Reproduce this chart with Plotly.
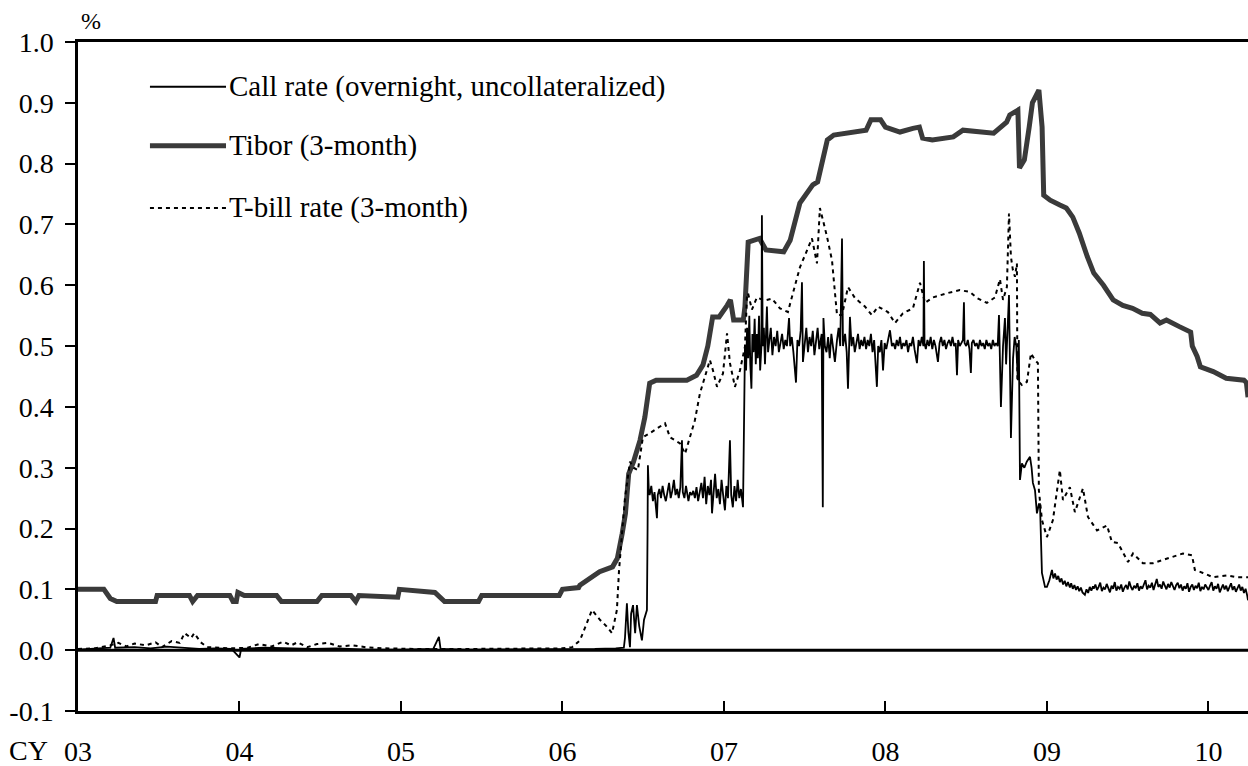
import plotly.graph_objects as go

# ---------------- data (decimal years, %) ----------------
tibor_x = [2003.00, 2003.16, 2003.20, 2003.24, 2003.48, 2003.49, 2003.69, 2003.71, 2003.74, 2003.94,
           2003.96, 2003.98, 2003.99, 2004.03, 2004.23, 2004.26, 2004.48, 2004.51, 2004.69, 2004.72,
           2004.74, 2004.98, 2004.99, 2005.17, 2005.21, 2005.27, 2005.48, 2005.50, 2005.98, 2006.00,
           2006.10, 2006.108, 2006.23, 2006.31, 2006.34, 2006.37, 2006.39, 2006.41, 2006.44, 2006.48,
           2006.51, 2006.54, 2006.58, 2006.77, 2006.83, 2006.87, 2006.90, 2006.93, 2006.97, 2007.02,
           2007.04, 2007.06, 2007.12, 2007.13, 2007.145, 2007.15, 2007.22, 2007.26, 2007.37, 2007.41,
           2007.47, 2007.55, 2007.58, 2007.61, 2007.64, 2007.68, 2007.76, 2007.88, 2007.91, 2007.97,
           2008.00, 2008.09, 2008.17, 2008.21, 2008.23, 2008.29, 2008.42, 2008.48, 2008.67, 2008.71,
           2008.75, 2008.77, 2008.82, 2008.83, 2008.86, 2008.89, 2008.91, 2008.95, 2008.97, 2008.98,
           2009.02, 2009.08, 2009.12, 2009.16, 2009.20, 2009.25, 2009.29, 2009.35, 2009.41, 2009.47,
           2009.53, 2009.59, 2009.64, 2009.70, 2009.74, 2009.82, 2009.89, 2009.90, 2009.93, 2009.95,
           2010.03, 2010.11, 2010.22, 2010.235, 2010.245]
tibor_y = [0.100, 0.100, 0.085, 0.080, 0.080, 0.090, 0.090, 0.080, 0.090, 0.090,
           0.080, 0.080, 0.095, 0.090, 0.090, 0.080, 0.080, 0.090, 0.090, 0.080,
           0.090, 0.087, 0.100, 0.097, 0.095, 0.080, 0.080, 0.090, 0.090, 0.100,
           0.103, 0.107, 0.129, 0.137, 0.151, 0.192, 0.225, 0.290, 0.310, 0.345,
           0.383, 0.439, 0.444, 0.444, 0.452, 0.469, 0.500, 0.548, 0.548, 0.567,
           0.576, 0.543, 0.543, 0.565, 0.660, 0.671, 0.677, 0.658, 0.655, 0.674,
           0.735, 0.765, 0.770, 0.806, 0.839, 0.847, 0.850, 0.855, 0.872, 0.872,
           0.860, 0.852, 0.858, 0.860, 0.842, 0.839, 0.844, 0.855, 0.850, 0.859,
           0.868, 0.880, 0.888, 0.793, 0.806, 0.860, 0.900, 0.921, 0.860, 0.748,
           0.740, 0.732, 0.727, 0.712, 0.686, 0.647, 0.620, 0.600, 0.576, 0.567,
           0.562, 0.554, 0.552, 0.538, 0.543, 0.532, 0.523, 0.500, 0.483, 0.466,
           0.458, 0.447, 0.444, 0.440, 0.416]

call_x = [2003.00, 2003.10, 2003.20, 2003.22, 2003.23, 2003.35, 2003.45, 2003.55, 2003.65, 2003.75,
          2003.85, 2003.95, 2004.00, 2004.01, 2004.15, 2004.30, 2004.45, 2004.60, 2004.80, 2005.00,
          2005.20, 2005.235, 2005.245, 2005.40, 2005.60, 2005.80, 2006.00, 2006.20, 2006.33, 2006.38,
          2006.387, 2006.399, 2006.408, 2006.418, 2006.425, 2006.437, 2006.45, 2006.461, 2006.475, 2006.492,
          2006.505, 2006.523, 2006.527, 2006.529, 2006.535,
          2006.54, 2006.55, 2006.56, 2006.57, 2006.585, 2006.59, 2006.60, 2006.61, 2006.62, 2006.63,
          2006.64, 2006.65, 2006.66, 2006.67, 2006.68, 2006.69, 2006.70, 2006.71, 2006.72, 2006.73,
          2006.74, 2006.745, 2006.755, 2006.765, 2006.78, 2006.79, 2006.80, 2006.81, 2006.82, 2006.83,
          2006.84, 2006.85, 2006.86, 2006.87, 2006.88, 2006.89, 2006.90, 2006.91, 2006.92, 2006.926,
          2006.935, 2006.945, 2006.955, 2006.965, 2006.975, 2006.985, 2006.995, 2007.006, 2007.015, 2007.025,
          2007.037, 2007.045, 2007.055, 2007.065, 2007.075, 2007.085, 2007.095, 2007.105, 2007.118,
          2007.124, 2007.13, 2007.137, 2007.143, 2007.15, 2007.157, 2007.163, 2007.17, 2007.176, 2007.183,
          2007.19, 2007.197, 2007.204, 2007.21, 2007.217, 2007.224, 2007.232, 2007.235, 2007.24, 2007.247,
          2007.254, 2007.26, 2007.266, 2007.273, 2007.28, 2007.29, 2007.30, 2007.31, 2007.32, 2007.33,
          2007.34, 2007.35, 2007.36, 2007.37, 2007.38, 2007.39, 2007.403, 2007.41, 2007.42, 2007.43,
          2007.446, 2007.455, 2007.465, 2007.475, 2007.483, 2007.489, 2007.50, 2007.51, 2007.52, 2007.53,
          2007.54, 2007.55, 2007.56, 2007.57, 2007.58, 2007.59, 2007.605, 2007.612, 2007.616, 2007.625,
          2007.635, 2007.645, 2007.655, 2007.665, 2007.675, 2007.687, 2007.70, 2007.71, 2007.72, 2007.731,
          2007.737, 2007.75, 2007.76, 2007.768, 2007.78, 2007.79, 2007.80, 2007.81, 2007.82, 2007.83,
          2007.84, 2007.85, 2007.86, 2007.87, 2007.88, 2007.89, 2007.90, 2007.91, 2007.92, 2007.93,
          2007.947, 2007.955, 2007.965, 2007.975, 2007.985, 2007.995, 2008.005, 2008.015, 2008.028, 2008.04,
          2008.05, 2008.06, 2008.07, 2008.08, 2008.09, 2008.10, 2008.11, 2008.12, 2008.13, 2008.14,
          2008.15, 2008.16, 2008.17, 2008.18, 2008.195, 2008.205, 2008.215, 2008.225, 2008.235, 2008.238,
          2008.242, 2008.25, 2008.26, 2008.27, 2008.28, 2008.29, 2008.30, 2008.31, 2008.325, 2008.335,
          2008.345, 2008.355, 2008.365, 2008.375, 2008.385, 2008.395, 2008.405, 2008.415, 2008.425, 2008.435,
          2008.443, 2008.45, 2008.46, 2008.47, 2008.48, 2008.486, 2008.49, 2008.50, 2008.51, 2008.52,
          2008.529, 2008.535, 2008.545, 2008.555, 2008.565, 2008.575, 2008.585, 2008.595, 2008.605, 2008.615,
          2008.625, 2008.635, 2008.645, 2008.655, 2008.665, 2008.675, 2008.685, 2008.695, 2008.703, 2008.715,
          2008.728, 2008.74, 2008.747, 2008.755, 2008.765, 2008.777, 2008.79, 2008.80, 2008.81, 2008.82,
          2008.826, 2008.833,
          2008.845, 2008.86, 2008.875, 2008.895, 2008.905, 2008.913, 2008.926, 2008.938, 2008.950, 2008.957,
          2008.969, 2008.988, 2009.00, 2009.015, 2009.031, 2009.04, 2009.05, 2009.06, 2009.07, 2009.08,
          2009.09, 2009.10, 2009.11, 2009.12, 2009.13, 2009.142, 2009.15, 2009.16, 2009.17, 2009.18,
          2009.19, 2009.20, 2009.21, 2009.22, 2009.235, 2009.245, 2009.255, 2009.265, 2009.275, 2009.285,
          2009.29, 2009.30, 2009.31, 2009.32, 2009.33, 2009.34, 2009.35, 2009.36, 2009.37, 2009.38,
          2009.39, 2009.40, 2009.41, 2009.42, 2009.43, 2009.44, 2009.45, 2009.46, 2009.47, 2009.48,
          2009.49, 2009.50, 2009.51, 2009.52, 2009.53, 2009.54, 2009.55, 2009.56, 2009.57, 2009.58,
          2009.59, 2009.60, 2009.61, 2009.62, 2009.63, 2009.64, 2009.65, 2009.66, 2009.67, 2009.68,
          2009.69, 2009.70, 2009.71, 2009.72, 2009.73, 2009.74, 2009.75, 2009.76, 2009.77, 2009.78,
          2009.79, 2009.80, 2009.81, 2009.82, 2009.83, 2009.84, 2009.85, 2009.86, 2009.87, 2009.88,
          2009.89, 2009.90, 2009.91, 2009.92, 2009.93, 2009.94, 2009.95, 2009.96, 2009.97, 2009.98,
          2009.99, 2010.00, 2010.01, 2010.02, 2010.03, 2010.04, 2010.05, 2010.06, 2010.07, 2010.08,
          2010.09, 2010.10, 2010.11, 2010.12, 2010.13, 2010.14, 2010.15, 2010.16, 2010.17, 2010.18,
          2010.19, 2010.20, 2010.21, 2010.22, 2010.23, 2010.24, 2010.245]
call_y = [0.001, 0.002, 0.004, 0.020, 0.004, 0.005, 0.003, 0.006, 0.004, 0.002,
          0.003, 0.002, -0.012, 0.002, 0.004, 0.003, 0.002, 0.003, 0.001, 0.001,
          0.002, 0.022, 0.002, 0.001, 0.001, 0.001, 0.002, 0.002, 0.003, 0.004,
          0.020, 0.077, 0.030, 0.005, 0.060, 0.074, 0.028, 0.074, 0.040, 0.016,
          0.050, 0.066, 0.200, 0.304, 0.260,
          0.255, 0.270, 0.245, 0.260, 0.217, 0.255, 0.265, 0.250, 0.270, 0.255,
          0.245, 0.260, 0.275, 0.250, 0.262, 0.280, 0.255, 0.265, 0.250, 0.268,
          0.345, 0.260, 0.250, 0.270, 0.245, 0.260, 0.255, 0.262, 0.250, 0.268,
          0.245, 0.260, 0.275, 0.250, 0.285, 0.240, 0.270, 0.255, 0.280, 0.225,
          0.260, 0.290, 0.250, 0.265, 0.240, 0.280, 0.255, 0.230, 0.270, 0.250,
          0.345, 0.255, 0.235, 0.270, 0.245, 0.280, 0.250, 0.265, 0.235,
          0.360, 0.500, 0.460, 0.530, 0.480, 0.550, 0.470, 0.430, 0.520, 0.490,
          0.545, 0.470, 0.520, 0.480, 0.550, 0.460, 0.500, 0.715, 0.500, 0.530,
          0.470, 0.520, 0.565, 0.490, 0.510, 0.530, 0.485, 0.515, 0.500, 0.525,
          0.490, 0.505, 0.520, 0.495, 0.510, 0.500, 0.546, 0.500, 0.515, 0.490,
          0.440, 0.510, 0.500, 0.525, 0.605, 0.474, 0.510, 0.530, 0.490, 0.515,
          0.500, 0.525, 0.485, 0.510, 0.530, 0.495, 0.520, 0.235, 0.546, 0.500,
          0.490, 0.515, 0.480, 0.520, 0.500, 0.474, 0.510, 0.530, 0.500, 0.677,
          0.500, 0.520, 0.490, 0.430, 0.548, 0.500, 0.515, 0.490, 0.505, 0.520,
          0.495, 0.510, 0.500, 0.515, 0.495, 0.510, 0.500, 0.520, 0.490, 0.510,
          0.433, 0.500, 0.490, 0.510, 0.460, 0.505, 0.495, 0.510, 0.526, 0.500,
          0.505, 0.495, 0.510, 0.500, 0.515, 0.495, 0.505, 0.500, 0.510, 0.490,
          0.505, 0.500, 0.515, 0.495, 0.472, 0.510, 0.500, 0.515, 0.500, 0.640,
          0.505, 0.495, 0.510, 0.500, 0.515, 0.495, 0.510, 0.500, 0.474, 0.505,
          0.515, 0.500, 0.510, 0.495, 0.505, 0.510, 0.500, 0.515, 0.500, 0.505,
          0.452, 0.510, 0.500, 0.505, 0.510, 0.572, 0.505, 0.500, 0.510, 0.495,
          0.456, 0.505, 0.510, 0.500, 0.505, 0.495, 0.510, 0.500, 0.505, 0.495,
          0.510, 0.500, 0.505, 0.495, 0.510, 0.500, 0.505, 0.500, 0.551, 0.400,
          0.500, 0.546, 0.470, 0.520, 0.584, 0.349, 0.480, 0.515, 0.500, 0.444,
          0.510, 0.280,
          0.307, 0.300, 0.310, 0.318, 0.300, 0.275, 0.263, 0.225, 0.240, 0.240,
          0.127, 0.104, 0.104, 0.115, 0.132, 0.118, 0.126, 0.116, 0.122, 0.112,
          0.118, 0.108, 0.114, 0.105, 0.112, 0.103, 0.110, 0.101, 0.107, 0.099,
          0.105, 0.097, 0.103, 0.095, 0.091, 0.100, 0.094, 0.104, 0.098, 0.105,
          0.101, 0.108, 0.099, 0.104, 0.111, 0.097, 0.103, 0.100, 0.109, 0.102,
          0.095, 0.106, 0.101, 0.112, 0.098, 0.104, 0.101, 0.108, 0.096, 0.103,
          0.107, 0.100, 0.113, 0.104, 0.099, 0.106, 0.102, 0.110, 0.098, 0.105,
          0.101, 0.108, 0.115, 0.100, 0.106, 0.103, 0.111, 0.099, 0.107, 0.117,
          0.104, 0.108, 0.101, 0.113, 0.106, 0.100, 0.109, 0.103, 0.112, 0.105,
          0.099, 0.107, 0.111, 0.102, 0.108, 0.098, 0.105, 0.101, 0.110, 0.096,
          0.104, 0.108, 0.099, 0.106, 0.102, 0.111, 0.097, 0.104, 0.100, 0.108,
          0.103, 0.099, 0.106, 0.112, 0.098, 0.105, 0.101, 0.109, 0.095, 0.103,
          0.108, 0.100, 0.106, 0.097, 0.104, 0.110, 0.099, 0.105, 0.096, 0.102,
          0.108, 0.098, 0.104, 0.094, 0.101, 0.090, 0.082]

tbill_x = [2003.00, 2003.10, 2003.20, 2003.25, 2003.30, 2003.35, 2003.42, 2003.48, 2003.52, 2003.58,
           2003.63, 2003.66, 2003.70, 2003.72, 2003.76, 2003.80, 2003.88, 2003.95, 2004.05, 2004.12,
           2004.20, 2004.27, 2004.32, 2004.36, 2004.42, 2004.48, 2004.55, 2004.62, 2004.70, 2004.78,
           2004.90, 2005.10, 2005.40, 2005.70, 2006.00, 2006.06, 2006.108, 2006.183, 2006.20, 2006.232,
           2006.27, 2006.307, 2006.337, 2006.35, 2006.368, 2006.387, 2006.418, 2006.44, 2006.467, 2006.498,
           2006.542, 2006.585, 2006.635, 2006.666, 2006.728, 2006.759, 2006.79, 2006.82, 2006.851, 2006.882,
           2006.913, 2006.932, 2006.957, 2006.994, 2007.019, 2007.037, 2007.068, 2007.099, 2007.13, 2007.142,
           2007.149, 2007.173, 2007.204, 2007.25, 2007.297, 2007.347, 2007.396, 2007.427, 2007.471, 2007.52,
           2007.545, 2007.576, 2007.594, 2007.613, 2007.638, 2007.669, 2007.70, 2007.731, 2007.768, 2007.811,
           2007.873, 2007.916, 2007.954, 2008.015, 2008.059, 2008.108, 2008.17, 2008.214, 2008.245, 2008.294,
           2008.381, 2008.461, 2008.523, 2008.567, 2008.628, 2008.678, 2008.709, 2008.728, 2008.752, 2008.765,
           2008.777, 2008.789, 2008.802, 2008.814, 2008.817, 2008.845, 2008.876, 2008.901, 2008.926, 2008.944,
           2008.950, 2008.969, 2009.000, 2009.037, 2009.080, 2009.099, 2009.142, 2009.173, 2009.223, 2009.254,
           2009.310, 2009.372, 2009.402, 2009.440, 2009.502, 2009.533, 2009.594, 2009.656, 2009.743, 2009.842,
           2009.898, 2009.916, 2009.966, 2010.028, 2010.115, 2010.176, 2010.245]
tbill_y = [0.002, 0.003, 0.008, 0.012, 0.006, 0.011, 0.008, 0.013, 0.005, 0.015,
           0.012, 0.028, 0.020, 0.028, 0.013, 0.005, 0.004, 0.003, 0.004, 0.010,
           0.006, 0.014, 0.008, 0.013, 0.005, 0.010, 0.012, 0.006, 0.008, 0.005,
           0.003, 0.002, 0.002, 0.002, 0.003, 0.005, 0.016, 0.066, 0.060, 0.050,
           0.040, 0.028, 0.066, 0.130, 0.190, 0.250, 0.310, 0.300, 0.296, 0.350,
           0.357, 0.365, 0.373, 0.350, 0.340, 0.323, 0.350, 0.378, 0.422, 0.449,
           0.477, 0.460, 0.433, 0.455, 0.521, 0.472, 0.433, 0.460, 0.499, 0.580,
           0.587, 0.560, 0.580, 0.575, 0.578, 0.562, 0.556, 0.587, 0.630, 0.661,
           0.677, 0.636, 0.727, 0.707, 0.680, 0.641, 0.551, 0.551, 0.597, 0.579,
           0.565, 0.551, 0.565, 0.556, 0.538, 0.554, 0.562, 0.604, 0.571, 0.580,
           0.587, 0.592, 0.589, 0.579, 0.571, 0.580, 0.610, 0.576, 0.597, 0.718,
           0.647, 0.625, 0.614, 0.636, 0.444, 0.436, 0.441, 0.488, 0.477, 0.472,
           0.263, 0.214, 0.186, 0.214, 0.296, 0.247, 0.268, 0.227, 0.266, 0.219,
           0.197, 0.205, 0.178, 0.176, 0.145, 0.159, 0.143, 0.143, 0.151, 0.159,
           0.156, 0.132, 0.127, 0.120, 0.123, 0.120, 0.120]

year_ticks = [2003, 2004, 2005, 2006, 2007, 2008, 2009, 2010]
tick_labels = ["03", "04", "05", "06", "07", "08", "09", "10"]
y_ticks = [-0.1, 0.0, 0.1, 0.2, 0.3, 0.4, 0.5, 0.6, 0.7, 0.8, 0.9, 1.0]
y_tick_labels = ["-0.1", "0.0", "0.1", "0.2", "0.3", "0.4", "0.5", "0.6", "0.7", "0.8", "0.9", "1.0"]

series_names = ["Call rate (overnight, uncollateralized)", "Tibor (3-month)", "T-bill rate (3-month)"]

# ---------------- figure ----------------
FONT = "Liberation Serif, Times New Roman, serif"
TIBOR_COLOR = "#3a3a3a"

fig = go.Figure()
fig.add_trace(go.Scatter(x=tibor_x, y=tibor_y, mode="lines", name=series_names[1],
                         line=dict(color=TIBOR_COLOR, width=5), showlegend=False))
fig.add_trace(go.Scatter(x=tbill_x, y=tbill_y, mode="lines", name=series_names[2],
                         line=dict(color="black", width=2, dash="4px,4px"), showlegend=False))
fig.add_trace(go.Scatter(x=call_x, y=call_y, mode="lines", name=series_names[0],
                         line=dict(color="black", width=1.8), showlegend=False))

# zero line drawn on top
fig.add_shape(type="line", xref="paper", x0=0, x1=1, yref="y", y0=0, y1=0,
              line=dict(color="black", width=3), layer="above")

# hand-made legend (line samples + text)
legend_rows = [(0.933, dict(color="black", width=2)),
               (0.845, dict(color=TIBOR_COLOR, width=5)),
               (0.752, dict(color="black", width=2, dash="4px,4px"))]
for (yp, ln), name in zip(legend_rows, series_names):
    fig.add_shape(type="line", xref="paper", yref="paper", x0=0.0615, x1=0.1265,
                  y0=yp, y1=yp, line=ln)
    fig.add_annotation(xref="paper", yref="paper", x=0.1275, y=yp, text=name,
                       showarrow=False, xanchor="left", yanchor="middle",
                       font=dict(family=FONT, size=29, color="black"))

fig.add_annotation(xref="paper", yref="paper", x=0.001, y=1.0, yshift=6, text="%",
                   showarrow=False, xanchor="left", yanchor="bottom",
                   font=dict(family=FONT, size=24, color="black"))
fig.add_annotation(xref="paper", yref="paper", x=-0.0427, y=0, yshift=-39, text="CY",
                   showarrow=False, xanchor="center", yanchor="middle", borderpad=0,
                   font=dict(family=FONT, size=28, color="black"))

fig.update_layout(
    width=1248, height=766,
    margin=dict(l=78, r=0, t=42, b=55),
    paper_bgcolor="white", plot_bgcolor="white",
    font=dict(family=FONT, size=28, color="black"),
    showlegend=False,
    xaxis=dict(range=[2003, 2010.245], tickmode="array", tickvals=year_ticks, ticktext=tick_labels,
               ticks="inside", ticklen=10, tickwidth=2, tickcolor="black",
               showline=True, linecolor="black", linewidth=2.5, mirror=True,
               showgrid=False, zeroline=False, ticklabelstandoff=14, automargin=False,
               tickfont=dict(family=FONT, size=28, color="black")),
    yaxis=dict(range=[-0.1, 1.0], tickmode="array", tickvals=y_ticks, ticktext=y_tick_labels,
               ticks="outside", ticklen=10, tickwidth=2, tickcolor="black",
               showline=True, linecolor="black", linewidth=2.5,
               showgrid=False, zeroline=False, ticklabelstandoff=6, automargin=False,
               tickfont=dict(family=FONT, size=28, color="black")),
)

fig.write_html("out.html", config={"displayModeBar": False},
               post_script="document.body.style.margin='0';document.body.style.overflow='hidden';")
